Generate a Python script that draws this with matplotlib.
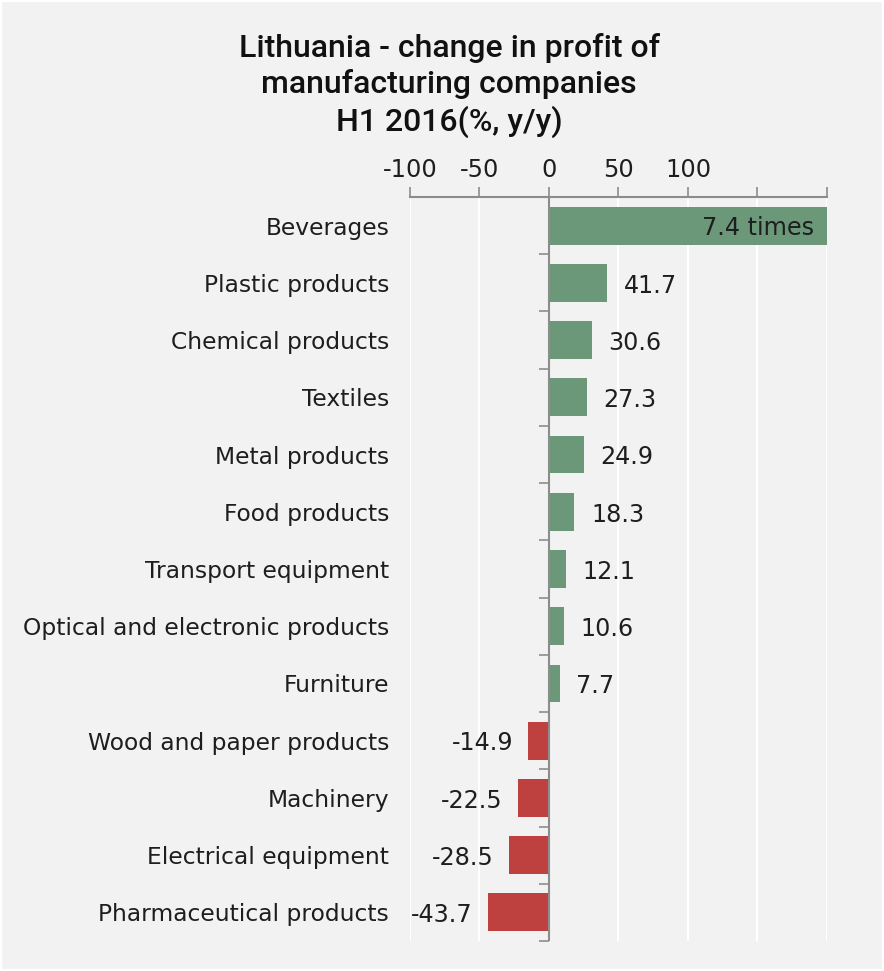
import matplotlib
matplotlib.use("Agg")
import matplotlib.pyplot as plt
import numpy as np

# Data: change in profit of manufacturing companies, H1 2016, % y/y
categories = [
    "Beverages",
    "Plastic products",
    "Chemical products",
    "Textiles",
    "Metal products",
    "Food products",
    "Transport equipment",
    "Optical and electronic products",
    "Furniture",
    "Wood and paper products",
    "Machinery",
    "Electrical equipment",
    "Pharmaceutical products",
]
beverages_ratio = 7.4  # profit grew 7.4 times
values = [(beverages_ratio - 1) * 100, 41.7, 30.6, 27.3, 24.9, 18.3, 12.1, 10.6, 7.7,
          -14.9, -22.5, -28.5, -43.7]
value_labels = ["7.4 times", "41.7", "30.6", "27.3", "24.9", "18.3", "12.1", "10.6", "7.7",
                "-14.9", "-22.5", "-28.5", "-43.7"]
x_ticks = [-100, -50, 0, 50, 100, 150, 200]
x_tick_labels = ["-100", "-50", "0", "50", "100", "", ""]

plt.rcParams["font.family"] = ["DejaVu Sans"]

BG = "#f2f2f2"
GREEN = "#6b9879"
RED = "#be4140"
AXIS_GRAY = "#8c8c8c"
TEXT = "#1e1e1e"
FS_CAT = 16.8
FS_VAL = 17.2
FS_TICK = 17.3

fig = plt.figure(figsize=(8.84, 9.71), dpi=100, facecolor=BG)
fig.patches.append(plt.Rectangle((0, 0), 1, 1, transform=fig.transFigure,
                                 fill=False, edgecolor="white", linewidth=3))
ax = fig.add_axes([0.4638, 0.0309, 0.4717, 0.7662], facecolor=BG)

xmin, xmax = -100, 200
y = np.arange(len(categories))
colors = [GREEN if v >= 0 else RED for v in values]
ax.barh(y, values, height=0.66, color=colors, zorder=3)

ax.set_xlim(xmin, xmax)
ax.set_ylim(len(categories) - 0.5, -0.5)

# White vertical gridlines
ax.set_xticks(x_ticks)
ax.set_xticklabels(x_tick_labels)
ax.grid(axis="x", color="white", linewidth=1.5, zorder=0)
ax.set_axisbelow(True)

# Value axis on top
ax.xaxis.tick_top()
ax.tick_params(axis="x", direction="out", length=7, width=1.2, color=AXIS_GRAY,
               labelsize=FS_TICK, labelcolor=TEXT, pad=4)

# Category labels on the left
ax.set_yticks(y)
ax.set_yticklabels(categories)
ax.tick_params(axis="y", length=0, labelsize=FS_CAT, labelcolor=TEXT, pad=15)

for s in ["left", "right", "bottom"]:
    ax.spines[s].set_visible(False)
ax.spines["top"].set_color(AXIS_GRAY)
ax.spines["top"].set_linewidth(1.5)

# Category axis drawn at zero with ticks between the bars
ax.axvline(0, color=AXIS_GRAY, linewidth=1.5, zorder=4)
zero_frac = (0 - xmin) / (xmax - xmin)
sec = ax.secondary_yaxis(zero_frac)
sec.set_yticks(np.arange(len(categories) + 1) - 0.5)
sec.set_yticklabels([])
sec.tick_params(axis="y", direction="out", length=7, width=1.2, color=AXIS_GRAY)
sec.spines["left"].set_visible(False)

# Value labels
for yi, v, lab in zip(y, values, value_labels):
    if v > xmax:
        ax.annotate(lab, (xmax, yi), xytext=(-9, -2), textcoords="offset points",
                    ha="right", va="center", fontsize=FS_VAL, color=TEXT, zorder=5)
    elif v >= 0:
        ax.annotate(lab, (v, yi), xytext=(12, -2), textcoords="offset points",
                    ha="left", va="center", fontsize=FS_VAL, color=TEXT)
    else:
        ax.annotate(lab, (v, yi), xytext=(-11, -2), textcoords="offset points",
                    ha="right", va="center", fontsize=FS_VAL, color=TEXT)

fig.text(0.508, 0.966, "Lithuania - change in profit of\nmanufacturing companies\nH1 2016(%, y/y)",
         ha="center", va="top", fontsize=23, fontweight=500, color="#111111",
         linespacing=1.25, family="Roboto")

fig.savefig("out.png", dpi=100, facecolor=BG)
